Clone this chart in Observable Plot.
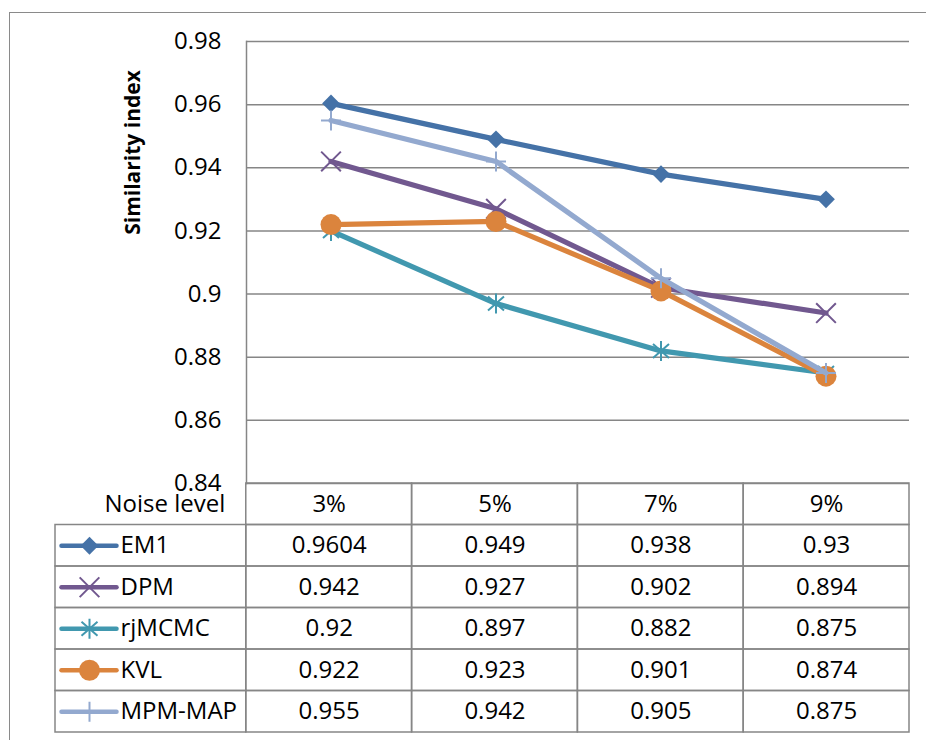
<!DOCTYPE html>
<html>
<head>
<meta charset="utf-8">
<script src="https://cdn.jsdelivr.net/npm/d3@7"></script>
<script src="https://cdn.jsdelivr.net/npm/@observablehq/plot@0.6"></script>
<style>
  html, body { margin: 0; padding: 0; background: #fff; }
  #chart { position: relative; width: 926px; height: 740px; overflow: hidden; font-family: "Open Sans", sans-serif; }
  #chart .border { position: absolute; left: 9px; top: 12px; width: 1000px; height: 1000px;
    border-left: 1.5px solid #8a8a8a; border-top: 1.5px solid #8a8a8a; }
  #chart svg { position: absolute; left: 0; top: 0; overflow: visible; }
</style>
</head>
<body>
<div id="chart"><div class="border"></div></div>
<script>
// Similarity index of each method at each noise level
const noiseLevels = ["3%", "5%", "7%", "9%"];
const seriesNames = ["EM1", "DPM", "rjMCMC", "KVL", "MPM-MAP"];
const em1    = [0.9604, 0.949, 0.938, 0.93];
const dpm    = [0.942, 0.927, 0.902, 0.894];
const rjmcmc = [0.92, 0.897, 0.882, 0.875];
const kvl    = [0.922, 0.923, 0.901, 0.874];
const mpmMap = [0.955, 0.942, 0.905, 0.875];
const yTicks = [0.84, 0.86, 0.88, 0.9, 0.92, 0.94, 0.96, 0.98];
const yLabel = "Similarity index";
const xLabel = "Noise level";

const seriesValues = [em1, dpm, rjmcmc, kvl, mpmMap];

// Star marker: a vertical stroke crossed by an X
const starSymbol = {
  draw(context, size) {
    const r = Math.sqrt(size / Math.PI);
    const dx = r * 0.8, dy = r * 0.7;
    context.moveTo(0, -r); context.lineTo(0, r);
    context.moveTo(-dx, -dy); context.lineTo(dx, dy);
    context.moveTo(-dx, dy); context.lineTo(dx, -dy);
  }
};

// Marker and line styling per series
const styles = {
  "EM1":     {color: "#4572A7", symbol: "diamond2", r: 8,    filled: true},
  "DPM":     {color: "#71588F", symbol: "times",    r: 9,    filled: false},
  "rjMCMC":  {color: "#4198AF", symbol: starSymbol, r: 10,   filled: false},
  "KVL":     {color: "#DB843D", symbol: "circle",   r: 10.5, filled: true},
  "MPM-MAP": {color: "#93A9CF", symbol: "plus",     r: 6.5,  filled: false}
};

const records = [];
seriesNames.forEach((name, s) => {
  noiseLevels.forEach((level, i) => {
    records.push({series: name, level, value: seriesValues[s][i], row: s + 1, col: i});
  });
});

const font = '"Open Sans", sans-serif';
const gridColor = "#868686";
const fmt = d => String(+d.toFixed(2));

const markerOptions = s => ({
  symbol: s.symbol, r: s.r,
  fill: s.filled ? s.color : "none",
  stroke: s.filled ? "none" : s.color,
  strokeWidth: 2
});

// ---- Line chart ----
const chartMarks = [
  Plot.gridY(yTicks, {stroke: gridColor, strokeOpacity: 1, strokeWidth: 1.5}),
  Plot.frame({anchor: "left", stroke: gridColor, strokeWidth: 1.5}),
  Plot.axisY(yTicks, {tickSize: 0, tickPadding: 25, tickFormat: fmt, fontSize: 24, label: null, fill: "#000"}),
  Plot.text([yLabel], {frameAnchor: "top-left", dx: -113, dy: 111, rotate: -90,
    textAnchor: "middle", lineAnchor: "middle", fontWeight: "bold", fontSize: 21, fill: "#000"})
];
for (const name of seriesNames) {
  const s = styles[name];
  const data = records.filter(d => d.series === name);
  chartMarks.push(Plot.line(data, {x: "level", y: "value", stroke: s.color, strokeWidth: 5.2,
    strokeLinejoin: "round", strokeLinecap: "round"}));
  chartMarks.push(Plot.dot(data, {x: "level", y: "value", ...markerOptions(s)}));
}

const chart = Plot.plot({
  width: 926,
  height: 740,
  marginLeft: 246,
  marginRight: 17,
  marginTop: 41,
  marginBottom: 257,
  x: {type: "band", domain: noiseLevels, padding: 0, axis: null},
  y: {domain: [0.84, 0.98], axis: null},
  style: {fontFamily: font, fontSize: "24px", background: "transparent", color: "#000", overflow: "visible"},
  marks: chartMarks
});

// ---- Data table beneath the chart ----
const legendCols = 191 / 166;                 // legend column width, in value-column units
const colPx = (909 - 55) / (noiseLevels.length + legendCols);
const legX = px => -legendCols + px / colPx;   // offset inside the legend cell

const headerCells = noiseLevels.map((level, i) => ({x1: i, x2: i + 1, y1: 0, y2: 1}));
const valueCells = records.map(d => ({x1: d.col, x2: d.col + 1, y1: d.row, y2: d.row + 1}));
const legendCells = seriesNames.map((name, s) => ({x1: -legendCols, x2: 0, y1: s + 1, y2: s + 2}));
const legendRows = seriesNames.map((name, s) => ({name, row: s + 1.5}));

const tableMarks = [
  Plot.rect([...headerCells, ...valueCells, ...legendCells],
    {x1: "x1", x2: "x2", y1: "y1", y2: "y2", fill: "none", stroke: gridColor, strokeWidth: 1.5}),
  Plot.text(noiseLevels, {x: (d, i) => i + 0.5, y: () => 0.5, text: d => d, fontSize: 24, fill: "#000"}),
  Plot.text([xLabel], {x: () => 0, y: () => 0.5, dx: -21, textAnchor: "end", fontSize: 24, fill: "#000"}),
  Plot.text(records, {x: d => d.col + 0.5, y: d => d.row + 0.5, text: d => String(d.value), fontSize: 24, fill: "#000"}),
  Plot.text(legendRows, {x: () => legX(65), y: "row", text: "name", textAnchor: "start", fontSize: 24, fill: "#000"})
];
for (const lr of legendRows) {
  const s = styles[lr.name];
  tableMarks.push(Plot.link([lr], {x1: () => legX(6), x2: () => legX(61), y1: "row", y2: "row",
    stroke: s.color, strokeWidth: 4.5, strokeLinecap: "round"}));
  tableMarks.push(Plot.dot([lr], {x: () => legX(34), y: "row", ...markerOptions(s)}));
}

const table = Plot.plot({
  width: 926,
  height: 740,
  x: {type: "linear", domain: [-legendCols, noiseLevels.length], range: [55, 909], axis: null},
  y: {type: "linear", domain: [0, seriesNames.length + 1], range: [483, 732], axis: null},
  style: {fontFamily: font, fontSize: "24px", background: "transparent", color: "#000", overflow: "visible"},
  marks: tableMarks
});

const root = document.getElementById("chart");
root.appendChild(chart);
root.appendChild(table);
</script>
</body>
</html>
